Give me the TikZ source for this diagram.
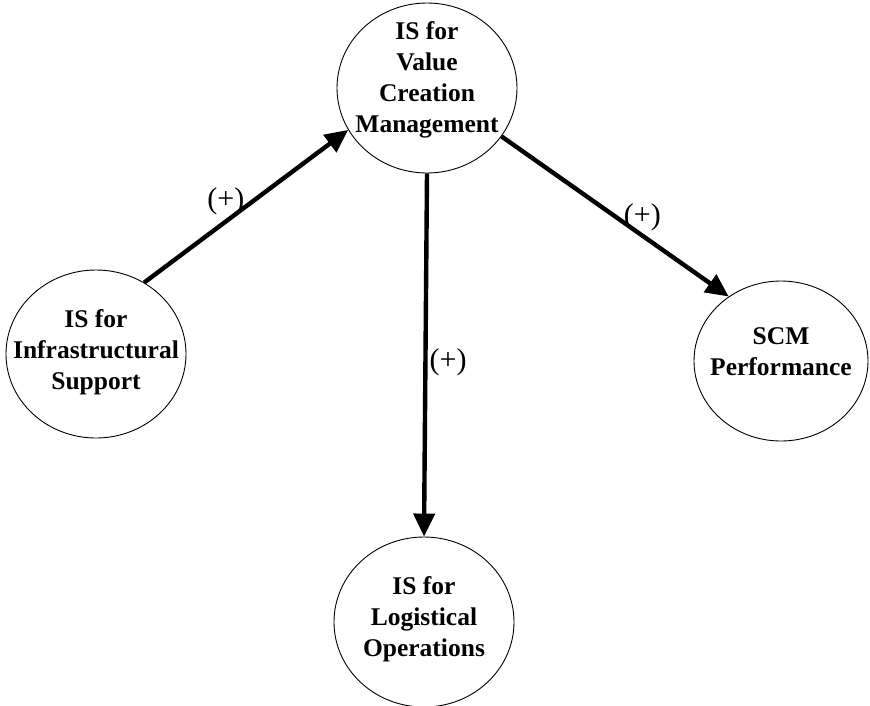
\documentclass[tikz,border=0pt]{standalone}
\usepackage{fontspec}
\setmainfont{Liberation Serif}
\usetikzlibrary{arrows.meta,shapes.geometric}

\begin{document}
\begin{tikzpicture}[x=1pt,y=-1pt,
    >={Triangle[length=23pt,width=21pt]},
    isbox/.style={draw,ellipse,line width=0.9pt,inner sep=0pt,
        minimum width=180pt,minimum height=170pt},
    istext/.style={align=center,inner sep=0pt,
        font=\fontsize{25.5}{31}\selectfont\bfseries},
    link/.style={->,line width=4.4pt},
    sign/.style={font=\fontsize{30}{32}\selectfont,inner sep=1pt}]
    \useasboundingbox (0,0) rectangle (870,705);
    % the four circles
    \node[isbox] (valc) at (427,88) {};
    \node[istext] (valct) at (427,80) {IS for\\Value\\Creation\\Management};
    \node[isbox,minimum height=168pt] (infra) at (96,354) {};
    \node[istext] (infrat) at (96,352) {IS for\\Infrastructural\\Support};
    \node[isbox,minimum width=174pt,minimum height=160pt] (scm) at (781,361) {};
    \node[istext] (scmt) at (781,352) {SCM\\Performance};
    \node[isbox] (logi) at (424,622) {};
    \node[istext] (logit) at (424,619) {IS for\\Logistical\\Operations};
    % arrows
    \draw[link] (infra.56) -- (valc.208) node[sign,pos=0.4,above=3pt] (s1) {(+)};
    \draw[link] (valc.-33) -- (scm.129.5) node[sign,pos=0.62,above=2pt] (s2) {(+)};
    \draw[link] (valc.south) -- (logi.north) node[sign,pos=0.52,right=1pt] (s3) {(+)};
\end{tikzpicture}
\end{document}
